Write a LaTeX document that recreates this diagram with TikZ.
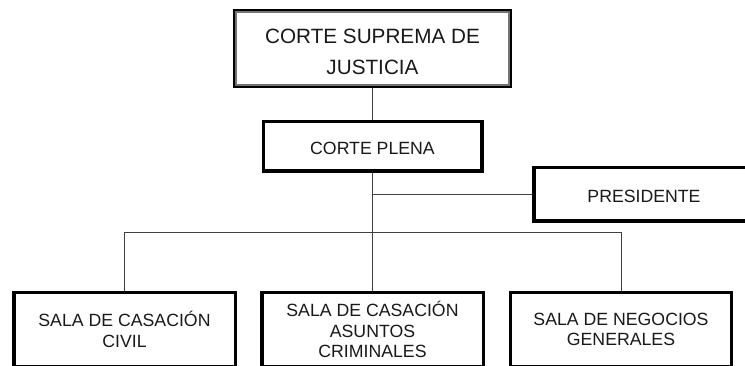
\documentclass[tikz,border=0pt]{standalone}
\usepackage{fontspec}
\setmainfont{Liberation Sans}
\begin{document}
\begin{tikzpicture}[x=1pt,y=-1pt,
  box/.style={draw=black, line width=3.5pt, fill=white, inner sep=0pt, align=center, text=black!90},
  big/.style={font=\fontsize{20.7}{31}\selectfont},
  mid/.style={font=\fontsize{17.7}{20.5}\selectfont},
  conn/.style={draw=black!75, line width=1pt}]
\useasboundingbox (0,0) rectangle (745,366);
\fill[white] (0,0) rectangle (745,366);
% nodes
\node[box, big, minimum width=275.5pt, minimum height=75.5pt] (top) at (372.5,48.5) {\rule{0pt}{20.8pt}CORTE SUPREMA DE\\JUSTICIA};
\draw[black!55, line width=2.5pt] ([shift={(3pt,-3pt)}]top.north west) rectangle ([shift={(-3pt,3pt)}]top.south east);
\node[box, mid, minimum width=218.5pt, minimum height=49.5pt] (plena) at (372.5,146.5) {\rule{0pt}{16.3pt}CORTE PLENA};
\node[box, mid, minimum width=220pt, minimum height=53.5pt] (pres) at (644,194.5) {\rule{0pt}{15.2pt}PRESIDENTE};
\node[box, mid, minimum width=221.5pt, minimum height=74pt] (civil) at (124.5,329.5) {SALA DE CASACIÓN\\CIVIL};
\node[box, mid, minimum width=221.5pt, minimum height=74pt] (crim) at (372.5,329.5) {SALA DE CASACIÓN\\ASUNTOS\\CRIMINALES};
\node[box, mid, minimum width=221pt, minimum height=74pt] (neg) at (621,329.5) {SALA DE NEGOCIOS\\GENERALES};
\coordinate (bar) at (372.5,233);
% connectors
\draw[conn] (top.south) -- (plena.north);
\draw[conn] (plena.south) -- (crim.north);
\draw[conn] (plena.south |- pres.west) -- (pres.west);
\draw[conn] (civil.north) -- (civil.north |- bar) -- (neg.north |- bar) -- (neg.north);
\end{tikzpicture}
\end{document}
